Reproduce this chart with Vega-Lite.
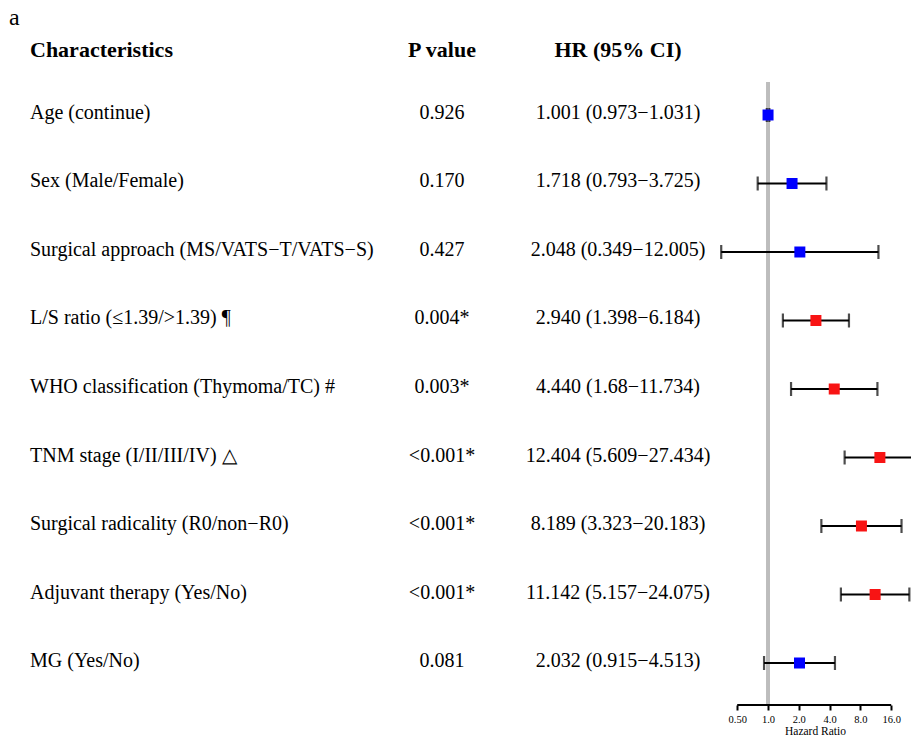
{
  "$schema": "https://vega.github.io/schema/vega-lite/v6.json",
  "padding": {"left": 9, "top": 6, "right": 0, "bottom": 0},
  "bounds": "flush",
  "spacing": 0,
  "background": "white",
  "title": {"text": "a", "anchor": "start", "font": "Liberation Serif", "fontSize": 24, "fontWeight": "normal", "color": "black", "offset": 9, "baseline": "top"},
  "config": {
    "view": {"stroke": null},
    "text": {"font": "Liberation Serif", "fontSize": 20, "color": "black"},
    "title": {"font": "Liberation Serif", "color": "black"}
  },
  "data": {"values": [
    {"name": "Age (continue)", "p": "0.926", "hr": 1.001, "lo": 0.973, "hi": 1.031, "hrtext": "1.001 (0.973−1.031)", "sig": "no"},
    {"name": "Sex (Male/Female)", "p": "0.170", "hr": 1.718, "lo": 0.793, "hi": 3.725, "hrtext": "1.718 (0.793−3.725)", "sig": "no"},
    {"name": "Surgical approach (MS/VATS−T/VATS−S)", "p": "0.427", "hr": 2.048, "lo": 0.349, "hi": 12.005, "hrtext": "2.048 (0.349−12.005)", "sig": "no"},
    {"name": "L/S ratio (≤1.39/>1.39) ¶", "p": "0.004*", "hr": 2.94, "lo": 1.398, "hi": 6.184, "hrtext": "2.940 (1.398−6.184)", "sig": "yes"},
    {"name": "WHO classification (Thymoma/TC) #", "p": "0.003*", "hr": 4.44, "lo": 1.68, "hi": 11.734, "hrtext": "4.440 (1.68−11.734)", "sig": "yes"},
    {"name": "TNM stage (I/II/III/IV) △", "p": "<0.001*", "hr": 12.404, "lo": 5.609, "hi": 27.434, "hrtext": "12.404 (5.609−27.434)", "sig": "yes"},
    {"name": "Surgical radicality (R0/non−R0)", "p": "<0.001*", "hr": 8.189, "lo": 3.323, "hi": 20.183, "hrtext": "8.189 (3.323−20.183)", "sig": "yes"},
    {"name": "Adjuvant therapy (Yes/No)", "p": "<0.001*", "hr": 11.142, "lo": 5.157, "hi": 24.075, "hrtext": "11.142 (5.157−24.075)", "sig": "yes"},
    {"name": "MG (Yes/No)", "p": "0.081", "hr": 2.032, "lo": 0.915, "hi": 4.513, "hrtext": "2.032 (0.915−4.513)", "sig": "no"}
  ]},
  "hconcat": [
    {
      "width": 358, "height": 623,
      "title": {"text": "Characteristics", "anchor": "start", "fontSize": 22, "fontWeight": "bold", "dx": 21, "offset": 20, "baseline": "top"},
      "mark": {"type": "text", "align": "left", "baseline": "alphabetic", "dx": 21, "dy": 4},
      "encoding": {
        "x": {"value": 0},
        "y": {"field": "name", "type": "nominal", "sort": null, "scale": {"type": "point", "padding": 0.5474, "align": 0.44}, "axis": null},
        "text": {"field": "name"}
      }
    },
    {
      "width": 150, "height": 623,
      "title": {"text": "P value", "anchor": "middle", "fontSize": 22, "fontWeight": "bold", "offset": 20, "baseline": "top"},
      "mark": {"type": "text", "align": "center", "baseline": "alphabetic", "dy": 4},
      "encoding": {
        "x": {"datum": "P value", "type": "nominal", "axis": null},
        "y": {"field": "name", "type": "nominal", "sort": null, "scale": {"type": "point", "padding": 0.5474, "align": 0.44}, "axis": null},
        "text": {"field": "p"}
      }
    },
    {
      "width": 202, "height": 623,
      "title": {"text": "HR (95% CI)", "anchor": "middle", "fontSize": 22, "fontWeight": "bold", "offset": 20, "baseline": "top"},
      "mark": {"type": "text", "align": "center", "baseline": "alphabetic", "dy": 4},
      "encoding": {
        "x": {"datum": "HR", "type": "nominal", "axis": null},
        "y": {"field": "name", "type": "nominal", "sort": null, "scale": {"type": "point", "padding": 0.5474, "align": 0.44}, "axis": null},
        "text": {"field": "hrtext"}
      }
    },
    {
      "width": 192, "height": 623,
      "layer": [
        {
          "mark": {"type": "rule", "color": "#bdbdbd", "strokeWidth": 3},
          "encoding": {
            "x": {"datum": 1, "type": "quantitative", "title": "Hazard Ratio",
              "scale": {"type": "log", "domain": [0.332, 24.98], "nice": false, "zero": false},
              "axis": {"values": [0.5, 1, 2, 4, 8, 16], "labelExpr": "datum.value == 0.5 ? '0.50' : format(datum.value, '.1f')", "domain": false, "grid": false, "ticks": true, "tickSize": 5, "tickWidth": 2, "tickColor": "black", "labelFont": "Liberation Serif", "labelFontSize": 10.5, "labelColor": "black", "labelPadding": 4, "labelFlush": false, "labelOverlap": false, "titleFont": "Liberation Serif", "titleFontSize": 11.5, "titleFontWeight": "normal", "titleColor": "black", "titlePadding": 1}}
          }
        },
        {
          "data": {"values": [{"start": 0.5, "end": 16}]},
          "mark": {"type": "rule", "color": "black", "strokeWidth": 2},
          "encoding": {
            "x": {"field": "start", "type": "quantitative", "title": "Hazard Ratio"},
            "x2": {"field": "end"},
            "y": {"value": "height"}
          }
        },
        {
          "mark": {"type": "rule", "color": "black", "strokeWidth": 2.2, "clip": true},
          "encoding": {
            "x": {"field": "lo", "type": "quantitative", "title": "Hazard Ratio"},
            "x2": {"field": "hi"},
            "y": {"field": "name", "type": "nominal", "sort": null, "scale": {"type": "point", "padding": 0.5474, "align": 0.44}, "axis": null}
          }
        },
        {
          "mark": {"type": "tick", "color": "black", "thickness": 2.2, "size": 14, "clip": true, "orient": "vertical"},
          "encoding": {
            "x": {"field": "lo", "type": "quantitative", "title": "Hazard Ratio"},
            "y": {"field": "name", "type": "nominal", "sort": null, "axis": null}
          }
        },
        {
          "mark": {"type": "tick", "color": "black", "thickness": 2.2, "size": 14, "clip": true, "orient": "vertical"},
          "encoding": {
            "x": {"field": "hi", "type": "quantitative", "title": "Hazard Ratio"},
            "y": {"field": "name", "type": "nominal", "sort": null, "axis": null}
          }
        },
        {
          "mark": {"type": "square", "size": 121, "filled": true, "opacity": 1, "clip": true},
          "encoding": {
            "x": {"field": "hr", "type": "quantitative", "title": "Hazard Ratio"},
            "y": {"field": "name", "type": "nominal", "sort": null, "axis": null},
            "color": {"field": "sig", "type": "nominal", "scale": {"domain": ["no", "yes"], "range": ["#0000ff", "#f81414"]}, "legend": null}
          }
        }
      ]
    }
  ]
}
